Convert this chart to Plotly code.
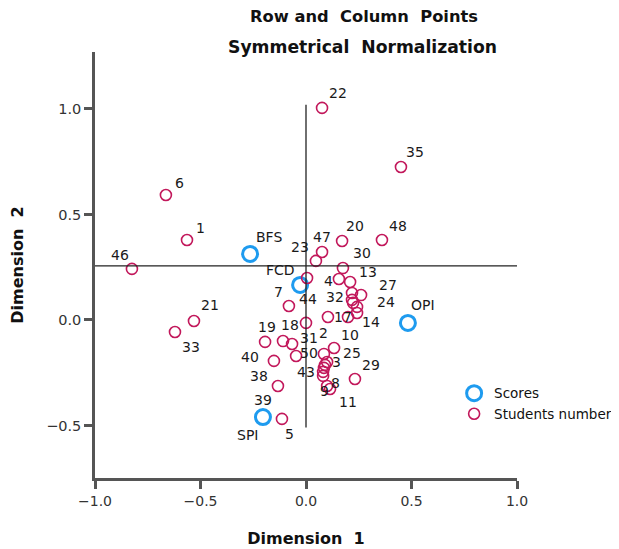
import plotly.graph_objects as go

# ---- data ----
score_names = ["BFS", "FCD", "OPI", "SPI"]
score_x = [-0.265, -0.028, 0.483, -0.204]
score_y = [0.313, 0.166, -0.014, -0.460]

student_names = ["22", "35", "6", "1", "46", "20", "48", "47", "23", "30",
                 "4", "13", "27", "32", "24", "14", "17", "44", "7", "21",
                 "33", "40", "19", "18", "31", "38", "39", "5", "10", "2",
                 "50", "25", "3", "43", "8", "9", "11", "29",
                 "12", "15", "16", "26"]
student_x = [0.076, 0.450, -0.664, -0.564, -0.825, 0.171, 0.360, 0.076, 0.047, 0.175,
             0.005, 0.209, 0.261, 0.218, 0.242, 0.242, 0.104, 0.000, -0.081, -0.531,
             -0.621, -0.194, -0.109, -0.066, -0.047, -0.152, -0.133, -0.114, 0.133, 0.085,
             0.100, 0.090, 0.085, 0.081, 0.081, 0.100, 0.114, 0.232,
             0.156, 0.218, 0.223, 0.199]
student_y = [1.005, 0.725, 0.592, 0.379, 0.242, 0.374, 0.379, 0.322, 0.280, 0.246,
             0.199, 0.180, 0.118, 0.095, 0.062, 0.033, 0.014, -0.014, 0.066, -0.005,
             -0.057, -0.104, -0.100, -0.114, -0.171, -0.194, -0.313, -0.469, -0.133, -0.161,
             -0.199, -0.213, -0.227, -0.246, -0.265, -0.313, -0.327, -0.280,
             0.194, 0.128, 0.081, 0.014]

x_ticks = [-1.0, -0.5, 0.0, 0.5, 1.0]
y_ticks = [-0.5, 0.0, 0.5, 1.0]
ref_x = 0.0
ref_y = 0.256

# ---- label placement (pixel offsets from each point; None = label hidden) ----
student_label_offsets = [(16, 15), (14, 15), (14, 12), (13, 12), (-12, 14), (13, 15), (16, 14), (0, 15), (-16, 14), (19, 15),
                         (21, -3), (18, 10), (27, 10), (-17, 3), (29, 5), (14, -9), (15, 0), (2, 24), (-10, 14), (16, 16),
                         (16, -15), (-15, -15), (-16, 14), (-2, 19), (13, 18), (-15, -15), (-15, -14), (8, -15), (16, 13), (0, 21),
                         (-18, 9), (27, 12), (13, 6), (-17, 0), (12, -7), (-3, -5), (18, -13), (16, 14),
                         None, None, None, None]
score_label_offsets = [(19, 17), (-20, 15), (15, 18), (-15, -18)]

BLUE = "#1E9BEF"
RED = "#C2185B"
AXIS = "#555555"
FONT = "DejaVu Sans"

fig = go.Figure()
fig.add_trace(go.Scatter(
    x=score_x, y=score_y, mode="markers", name="Scores",
    marker=dict(symbol="circle-open", size=15, color=BLUE, line=dict(width=3, color=BLUE)),
))
fig.add_trace(go.Scatter(
    x=student_x, y=student_y, mode="markers", name="Students number",
    marker=dict(symbol="circle-open", size=11, color=RED, line=dict(width=1.6, color=RED)),
))

annotations = []
for name, x, y, off in zip(student_names, student_x, student_y, student_label_offsets):
    if off is None:
        continue
    annotations.append(dict(x=x, y=y, xref="x", yref="y", text=name, showarrow=False,
                            xshift=off[0], yshift=off[1],
                            font=dict(family=FONT, size=14, color="#1a1a1a")))
for name, x, y, off in zip(score_names, score_x, score_y, score_label_offsets):
    annotations.append(dict(x=x, y=y, xref="x", yref="y", text=name, showarrow=False,
                            xshift=off[0], yshift=off[1],
                            font=dict(family=FONT, size=14, color="#1a1a1a")))

annotations.append(dict(x=0.638, y=1.0845, xref="paper", yref="paper", showarrow=False,
                        xanchor="center", yanchor="middle",
                        text="<b>Row and  Column  Points</b>",
                        font=dict(family=FONT, size=16.3, color="#111")))
annotations.append(dict(x=0.635, y=1.0117, xref="paper", yref="paper", showarrow=False,
                        xanchor="center", yanchor="middle",
                        text="<b>Symmetrical  Normalization</b>",
                        font=dict(family=FONT, size=17.2, color="#111")))

shapes = [
    dict(type="line", xref="x", yref="y", x0=-1.0, x1=1.01, y0=ref_y, y1=ref_y,
         line=dict(color="#222", width=1.3)),
    dict(type="line", xref="x", yref="y", x0=ref_x, x1=ref_x, y0=-0.51, y1=1.02,
         line=dict(color="#222", width=1.3)),
]

fig.update_layout(
    width=611, height=541,
    margin=dict(l=87, r=102, t=44, b=71, autoexpand=False),
    paper_bgcolor="white", plot_bgcolor="white",
    font=dict(family=FONT, color="#222"),
    annotations=annotations, shapes=shapes,
    showlegend=True,
    legend=dict(x=0.851, y=0.235, xanchor="left", yanchor="top",
                font=dict(family=FONT, size=13.5, color="#111"),
                bgcolor="rgba(0,0,0,0)", tracegroupgap=0, itemwidth=30),
    xaxis=dict(range=[-1.0, 1.0], tickvals=x_ticks, tickformat=".1f", automargin=False,
               showgrid=False, zeroline=False, showline=True, linecolor=AXIS, linewidth=2.5,
               ticks="outside", ticklen=8, tickwidth=2.5, tickcolor=AXIS,
               tickfont=dict(family=FONT, size=14, color="#333"),
               title=dict(text="<b>Dimension  1</b>", standoff=26,
                          font=dict(family=FONT, size=16, color="#111"))),
    yaxis=dict(range=[-0.749, 1.27], tickvals=y_ticks, tickformat=".1f", automargin=False,
               showgrid=False, zeroline=False, showline=True, linecolor=AXIS, linewidth=2.5,
               ticks="outside", ticklen=8, tickwidth=2.5, tickcolor=AXIS,
               tickfont=dict(family=FONT, size=14.5, color="#333"),
               title=dict(text="<b>Dimension  2</b>", standoff=30,
                          font=dict(family=FONT, size=16, color="#111"))),
)

fig.write_html("out.html")
